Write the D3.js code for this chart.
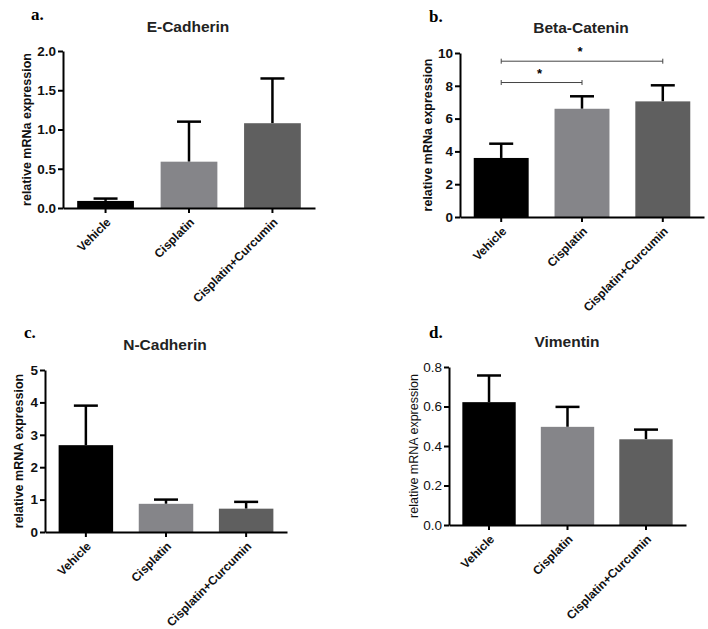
<!DOCTYPE html>
<html>
<head>
<meta charset="utf-8">
<script src="https://d3js.org/d3.v7.min.js"></script>
<style>
  body { margin: 0; background: #fff; }
  svg text { font-family: "Liberation Sans", Arial, sans-serif; }
</style>
</head>
<body>
<div id="chart"></div>
<script>
// groups on the x axis
const categories = ["Vehicle", "Cisplatin", "Cisplatin+Curcumin"];

// mean and mean+SD
const eCadherinMean = [0.09, 0.59, 1.08];
const eCadherinUpper = [0.12, 1.10, 1.65];
const betaCateninMean = [3.6, 6.6, 7.05];
const betaCateninUpper = [4.47, 7.36, 8.03];
const nCadherinMean = [2.68, 0.87, 0.72];
const nCadherinUpper = [3.90, 1.00, 0.93];
const vimentinMean = [0.622, 0.497, 0.434];
const vimentinUpper = [0.757, 0.598, 0.483];

// tick labels
const ticksA = [0, 0.5, 1.0, 1.5, 2.0];
const ticksB = [0, 2, 4, 6, 8, 10];
const ticksC = [0, 1, 2, 3, 4, 5];
const ticksD = [0, 0.2, 0.4, 0.6, 0.8];

// significance brackets for beta-catenin
const sigFrom = ["Vehicle", "Vehicle"];
const sigTo = ["Cisplatin+Curcumin", "Cisplatin"];
const sigLevel = [9.5, 8.2];

const barColors = ["#000000", "#858589", "#5f5f5f"];

const svg = d3.select("#chart").append("svg")
    .attr("width", 708)
    .attr("height", 629);

// panel layout
const panels = [
  {letter: "a.", lx: 31, ly: 20, title: "E-Cadherin", tx: 188, ty: 32,
   mean: eCadherinMean, upper: eCadherinUpper, ticks: ticksA, fmt: d3.format(".1f"),
   x0: 63, x1: 315, y0: 208, y1: 51, ylab: "relative mRNa expression", ylx: 27, bold: true},
  {letter: "b.", lx: 429, ly: 22, title: "Beta-Catenin", tx: 581, ty: 33,
   mean: betaCateninMean, upper: betaCateninUpper, ticks: ticksB, fmt: d3.format("d"),
   x0: 460, x1: 704, y0: 217, y1: 53, ylab: "relative mRNa expression", ylx: 428, bold: true, sig: true},
  {letter: "c.", lx: 24, ly: 338, title: "N-Cadherin", tx: 165, ty: 350,
   mean: nCadherinMean, upper: nCadherinUpper, ticks: ticksC, fmt: d3.format("d"),
   x0: 45, x1: 287, y0: 532, y1: 370, ylab: "relative mRNA expression", ylx: 19, bold: true},
  {letter: "d.", lx: 429, ly: 338, title: "Vimentin", tx: 567, ty: 347,
   mean: vimentinMean, upper: vimentinUpper, ticks: ticksD, fmt: d3.format(".1f"),
   x0: 449, x1: 686, y0: 525, y1: 367, ylab: "relative mRNA expression", ylx: 414, bold: false}
];

panels.forEach(p => {
  const g = svg.append("g");

  const x = d3.scaleBand()
      .domain(categories)
      .range([p.x0, p.x1])
      .paddingInner(0.32)
      .paddingOuter(0.17);

  const y = d3.scaleLinear()
      .domain([0, d3.max(p.ticks)])
      .range([p.y0, p.y1]);

  // panel letter
  g.append("text")
      .attr("x", p.lx).attr("y", p.ly)
      .style("font-family", "'Liberation Serif', 'Times New Roman', serif")
      .style("font-weight", "bold")
      .style("font-size", "17px")
      .text(p.letter);

  // title
  g.append("text")
      .attr("x", p.tx).attr("y", p.ty)
      .attr("text-anchor", "middle")
      .style("font-weight", "bold")
      .style("font-size", "15.5px")
      .style("fill", "#222")
      .text(p.title);

  // error bars (drawn first, bar covers the lower half)
  const cap = 12;
  const err = g.append("g")
      .attr("stroke", "#000")
      .attr("stroke-width", 2.5);
  categories.forEach((c, i) => {
    const cx = x(c) + x.bandwidth() / 2;
    err.append("line")
        .attr("x1", cx).attr("x2", cx)
        .attr("y1", y(p.mean[i])).attr("y2", y(p.upper[i]));
    err.append("line")
        .attr("x1", cx - cap).attr("x2", cx + cap)
        .attr("y1", y(p.upper[i])).attr("y2", y(p.upper[i]));
  });

  // bars
  g.selectAll("rect.bar")
    .data(categories)
    .join("rect")
      .attr("class", "bar")
      .attr("x", d => x(d))
      .attr("width", x.bandwidth())
      .attr("y", (d, i) => y(p.mean[i]))
      .attr("height", (d, i) => y(0) - y(p.mean[i]))
      .attr("fill", (d, i) => barColors[i]);

  // y axis
  const yAxis = g.append("g")
      .attr("transform", "translate(" + p.x0 + ",0)")
      .call(d3.axisLeft(y).tickValues(p.ticks).tickFormat(p.fmt).tickSize(5).tickSizeOuter(0).tickPadding(2));
  yAxis.selectAll("path, line").attr("stroke", "#000").attr("stroke-width", 2);
  yAxis.selectAll("text")
      .style("font-size", "13.5px")
      .style("font-weight", p.bold ? "bold" : "normal")
      .style("fill", "#111");

  // x axis
  const xAxis = g.append("g")
      .attr("transform", "translate(0," + p.y0 + ")")
      .call(d3.axisBottom(x).tickSize(5).tickSizeOuter(0));
  xAxis.selectAll("path, line").attr("stroke", "#000").attr("stroke-width", 2);
  xAxis.selectAll("text")
      .attr("x", 0).attr("y", 0).attr("dy", "0.35em")
      .attr("text-anchor", "end")
      .attr("transform", "translate(3,12) rotate(-45)")
      .style("font-size", "12px")
      .style("font-weight", "bold")
      .style("fill", "#111");

  // y label
  g.append("text")
      .attr("transform", "translate(" + p.ylx + "," + ((p.y0 + p.y1) / 2) + ") rotate(-90)")
      .attr("text-anchor", "middle")
      .attr("dy", "0.35em")
      .style("font-size", p.bold ? "12.5px" : "12.5px")
      .style("font-weight", p.bold ? "bold" : "normal")
      .style("fill", "#111")
      .text(p.ylab);

  // significance brackets
  if (p.sig) {
    const cx = c => x(c) + x.bandwidth() / 2;
    sigLevel.forEach((lv, i) => {
      const sg = g.append("g").attr("stroke", "#444").attr("stroke-width", 1);
      sg.append("line")
          .attr("x1", cx(sigFrom[i])).attr("x2", cx(sigTo[i]))
          .attr("y1", y(lv)).attr("y2", y(lv));
      [sigFrom[i], sigTo[i]].forEach(c => {
        sg.append("line")
            .attr("x1", cx(c)).attr("x2", cx(c))
            .attr("y1", y(lv) - 2.5).attr("y2", y(lv) + 2.5);
      });
      g.append("text")
          .attr("x", (cx(sigFrom[i]) + cx(sigTo[i])) / 2 - 2)
          .attr("y", y(lv) - 5)
          .attr("text-anchor", "middle")
          .style("font-size", "13px")
          .style("font-weight", "bold")
          .text("*");
    });
  }
});
</script>
</body>
</html>
